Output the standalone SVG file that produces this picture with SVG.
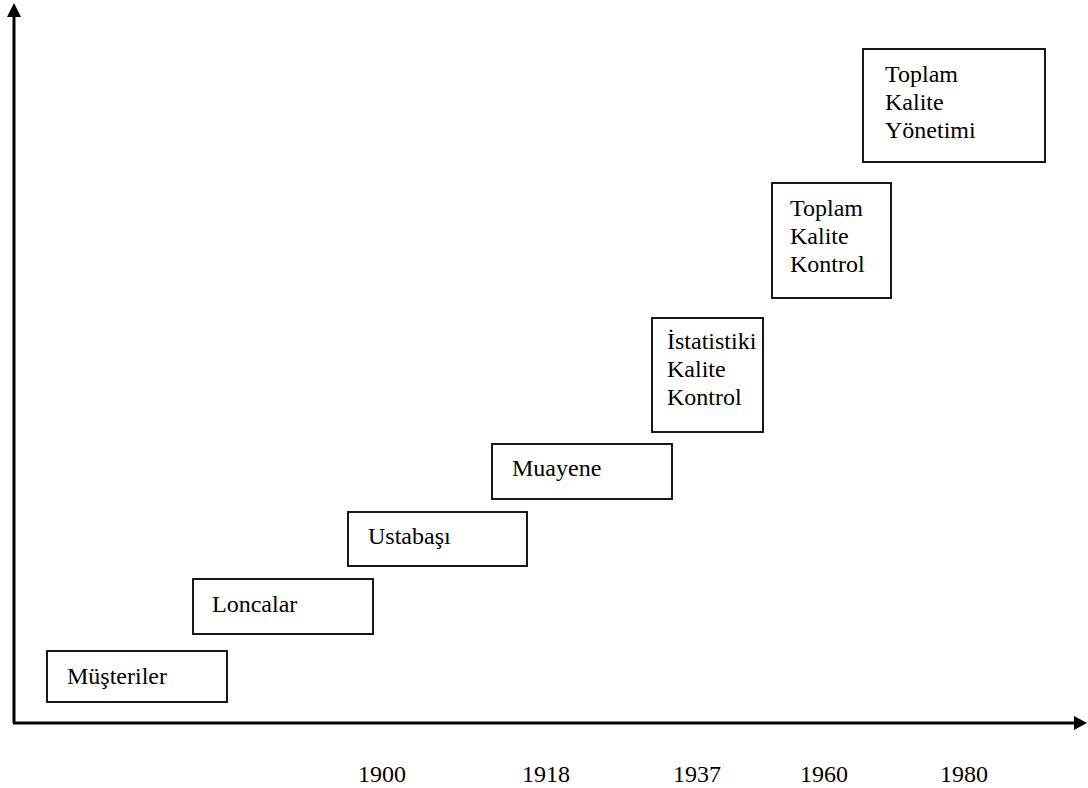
<svg xmlns="http://www.w3.org/2000/svg" width="1088" height="788" viewBox="0 0 1088 788">
<style>
.box{fill:#fff;stroke:#000;stroke-width:1.8}
.t{font-family:"Liberation Serif","Times New Roman",serif;font-size:24px;fill:#000}
.ax{stroke:#000;stroke-width:3;fill:none}
</style>
<rect width="1088" height="788" fill="#fff"/>
<g id="connectors">
<line class="ax" x1="14" y1="723" x2="14" y2="14"/>
<polygon points="14,3 7,17 21,17" fill="#000"/>
<line class="ax" x1="13" y1="723" x2="1076" y2="723"/>
<polygon points="1087,723 1074,716 1074,730" fill="#000"/>
</g>
<g id="n1"><rect class="box" x="47" y="651" width="180" height="51"/><text class="t" x="67" y="684">Müşteriler</text></g>
<g id="n2"><rect class="box" x="193" y="579" width="180" height="55"/><text class="t" x="212" y="612">Loncalar</text></g>
<g id="n3"><rect class="box" x="348" y="512" width="179" height="54"/><text class="t" x="368" y="544">Ustabaşı</text></g>
<g id="n4"><rect class="box" x="492" y="444" width="180" height="55"/><text class="t" x="512" y="476">Muayene</text></g>
<g id="n5"><rect class="box" x="652" y="318" width="111" height="114"/><text class="t" x="667" y="349">İstatistiki</text><text class="t" x="667" y="377">Kalite</text><text class="t" x="667" y="405">Kontrol</text></g>
<g id="n6"><rect class="box" x="772" y="183" width="119" height="115"/><text class="t" x="790" y="216">Toplam</text><text class="t" x="790" y="244">Kalite</text><text class="t" x="790" y="272">Kontrol</text></g>
<g id="n7"><rect class="box" x="863" y="49" width="182" height="113"/><text class="t" x="885" y="82">Toplam</text><text class="t" x="885" y="110">Kalite</text><text class="t" x="885" y="138">Yönetimi</text></g>
<g id="years">
<text class="t" x="358" y="782">1900</text>
<text class="t" x="522" y="782">1918</text>
<text class="t" x="673" y="782">1937</text>
<text class="t" x="800" y="782">1960</text>
<text class="t" x="940" y="782">1980</text>
</g>
</svg>
